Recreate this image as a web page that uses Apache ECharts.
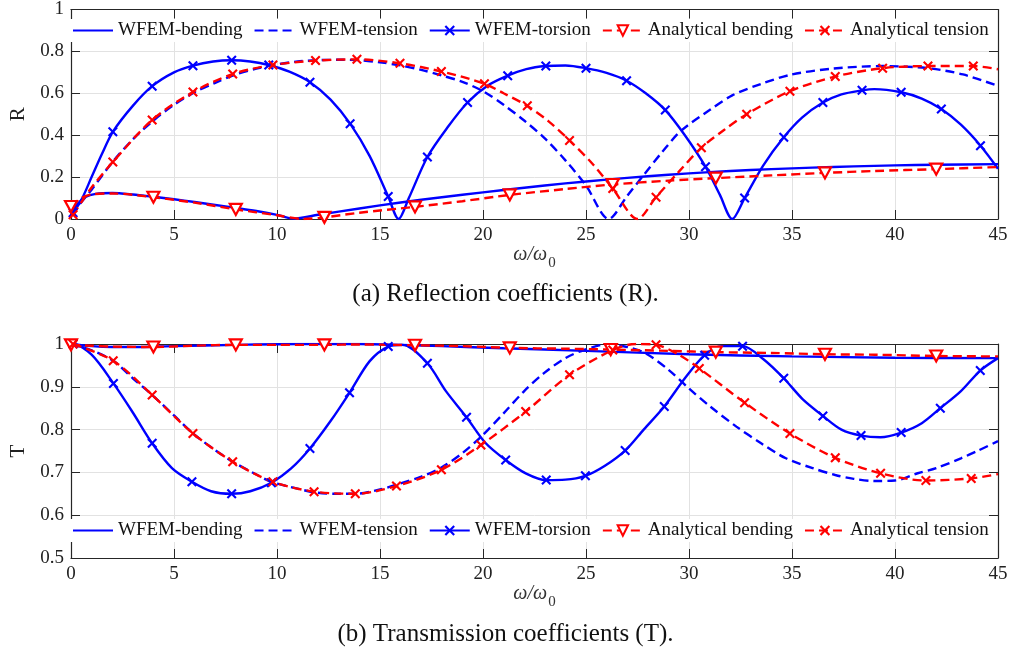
<!DOCTYPE html>
<html><head><meta charset="utf-8">
<script src="https://cdn.jsdelivr.net/npm/echarts@6/dist/echarts.min.js"></script>
<style>html,body{margin:0;padding:0;background:#fff}#c{width:1011px;height:655px}</style>
</head><body><div id="c"></div>
<script>
// ---------- Axis ticks ----------
const xTicks = [0,5,10,15,20,25,30,35,40,45];
const rTicks = [0,0.2,0.4,0.6,0.8,1];
const tTicks = [0.5,0.6,0.7,0.8,0.9,1];
const seriesNames = ['WFEM-bending','WFEM-tension','WFEM-torsion','Analytical bending','Analytical tension'];

// ---------- (a) Reflection R ----------
const rWfemBendX = [0,0.3,0.7,1.2,2,3,4,5,6,7,8,9,10,10.8,12,14,16,18,20,22,24,26,28,30,32,34,36,38,40,42,45];
const rWfemBendY = [0.02,0.07,0.105,0.12,0.124,0.117,0.106,0.094,0.081,0.067,0.053,0.038,0.02,0.002,0.02,0.05,0.079,0.104,0.127,0.149,0.17,0.188,0.204,0.218,0.229,0.238,0.245,0.251,0.256,0.259,0.262];

const rWfemTensX = [0,0.5,1,2,3,4,5,6,7,8,9,10,11,12,13,14,15,16,17,18,19,20,21,22,23,24,25,26.1,27,27.8,28.7,29.6,31,32.1,33.5,35,37,39.4,41.6,43.3,45];
const rWfemTensY = [0.02,0.08,0.14,0.27,0.38,0.47,0.545,0.605,0.65,0.69,0.718,0.738,0.752,0.758,0.76,0.758,0.748,0.733,0.712,0.685,0.655,0.61,0.545,0.47,0.385,0.28,0.16,0.0,0.11,0.21,0.32,0.42,0.52,0.59,0.645,0.69,0.718,0.73,0.72,0.69,0.635];

const rWfemTorsX = [0,0.5,1,1.5,3,5,6.9,8.7,10.6,12.6,14.5,15.9,16.4,18.3,20.2,22.1,24,26,27.9,29.8,31.5,32.1,33.6,35.5,37.4,39,41.3,43.2,45];
const rWfemTorsY = [0.02,0.09,0.2,0.31,0.54,0.7,0.752,0.752,0.703,0.57,0.3,0.0,0.1,0.44,0.635,0.715,0.733,0.697,0.6,0.4,0.115,0.0,0.255,0.485,0.595,0.62,0.575,0.45,0.24];
const rWfemTorsMarkX = [0.1,2.03,3.94,5.92,7.8,9.6,11.6,13.55,15.4,17.3,19.25,21.2,23.05,25,26.97,28.85,30.8,32.7,34.6,36.5,38.4,40.3,42.25,44.15];
const rWfemTorsMarkY = [0.03,0.416,0.634,0.732,0.758,0.735,0.653,0.455,0.107,0.296,0.556,0.684,0.73,0.72,0.66,0.52,0.25,0.1,0.39,0.556,0.614,0.605,0.525,0.35];

const rAnaBendX = [0.5,1,2,6,10,11.3,14,19,24,29,34,39,45];
const rAnaBendY = [0.1,0.117,0.122,0.078,0.018,0.0,0.03,0.085,0.143,0.183,0.208,0.229,0.248];
const rAnaBendMarkX = [0,4,8,12.3,16.7,21.3,26.3,31.3,36.6,42];
const rAnaBendMarkY = [0.06,0.104,0.046,0.008,0.058,0.115,0.165,0.195,0.22,0.238];

const rAnaTensX = [1,21,23.2,25.3,27.5,29.5,31.7,45];
const rAnaTensY = [0.15,0.6,0.465,0.265,0.0,0.225,0.425,0.715];
const rAnaTensMarkX = [0.1,2.03,3.94,5.92,7.85,9.8,11.87,13.88,15.97,17.98,20.07,22.15,24.2,26.3,28.4,30.6,32.8,34.9,37.1,39.4,41.6,43.8];
const rAnaTensMarkY = [0.02,0.272,0.473,0.606,0.692,0.735,0.756,0.762,0.743,0.704,0.646,0.54,0.375,0.145,0.104,0.34,0.5,0.61,0.68,0.72,0.73,0.73];

// ---------- (b) Transmission T ----------
const tWfemBendX = [0,1,2,3,5,8,11,14,16,18,21,25,30,35,40,45];
const tWfemBendY = [1.0,0.995,0.993,0.993,0.995,0.998,1.0,1.0,0.998,0.995,0.99,0.984,0.976,0.971,0.968,0.967];

const tWfemTensX = [0,1,2.05,3,3.94,5,5.92,7,7.85,9,9.73,11,11.87,13,13.8,15,15.9,17,18,19,19.9,21,22,22.96,24,24.9,26,27,27.9,29,30,31,32.3,33.5,34.7,36,37.1,38,39,40,41.1,42,43.2,44,45];
const tWfemTensY = [1.0,0.985,0.961,0.92,0.881,0.833,0.791,0.752,0.725,0.695,0.678,0.662,0.653,0.65,0.65,0.66,0.673,0.69,0.712,0.745,0.783,0.838,0.89,0.932,0.967,0.986,0.999,0.993,0.978,0.94,0.896,0.855,0.807,0.768,0.733,0.71,0.694,0.685,0.68,0.681,0.698,0.71,0.733,0.75,0.773];

const tWfemTorsX = [0,1,3,4.9,6.8,8.7,10.7,12.6,14.5,16.1,18.2,20.1,22.1,24,25.9,27.8,29.8,31.6,33.6,35.5,37.4,39.3,41.3,43.2,45];
const tWfemTorsY = [1.0,0.975,0.84,0.71,0.656,0.656,0.71,0.82,0.96,0.998,0.89,0.77,0.697,0.683,0.715,0.8,0.92,0.995,0.965,0.872,0.8,0.782,0.815,0.89,0.967];
const tWfemTorsMarkX = [0.1,2.06,3.94,5.87,7.8,9.73,11.6,13.52,15.4,17.3,19.2,21.1,23.07,24.97,26.9,28.8,30.76,32.6,34.6,36.5,38.35,40.3,42.2,44.14];
const tWfemTorsMarkY = [1.0,0.908,0.768,0.678,0.65,0.676,0.756,0.886,0.994,0.955,0.829,0.729,0.682,0.692,0.751,0.854,0.974,0.995,0.92,0.832,0.786,0.793,0.85,0.938];

const tAnaBendX = [1,2,6,10,14,19,24,29,34,39,45];
const tAnaBendY = [0.996,0.994,0.996,0.998,0.999,0.995,0.989,0.984,0.979,0.975,0.971];
const tAnaBendMarkX = [0,4,8,12.3,16.7,21.3,26.2,31.3,36.6,42];
const tAnaBendMarkY = [0.998,0.993,0.998,0.998,0.997,0.991,0.987,0.981,0.976,0.972];

const tAnaTensX = [27.4,29.5,45];
const tAnaTensY = [1.0,0.975,0.696];
const tAnaTensMarkX = [0.1,2.05,3.94,5.92,7.85,9.8,11.8,13.8,15.8,17.98,19.9,22.07,24.2,26.3,28.4,30.5,32.7,34.9,37.1,39.3,41.5,43.7];
const tAnaTensMarkY = [1.0,0.961,0.881,0.791,0.725,0.678,0.655,0.65,0.668,0.706,0.764,0.842,0.928,0.986,0.998,0.943,0.863,0.791,0.734,0.698,0.681,0.686];

// ---------- helpers ----------
const BLUE = '#0000ff', RED = '#ff0000';
const X_SYM = 'path://M1.5,0 L5,3.5 L8.5,0 L10,1.5 L6.5,5 L10,8.5 L8.5,10 L5,6.5 L1.5,10 L0,8.5 L3.5,5 L0,1.5 Z';
const TRI_SYM = 'path://M0,0 L10,0 L5,9 Z';
const FONT = 'Liberation Serif';

function merge(lx, ly, mx, my) {
  const pts = [];
  lx.forEach((x, i) => pts.push({ value: [x, ly[i]], symbol: 'none' }));
  (mx || []).forEach((x, i) => pts.push({ value: [x, my[i]] }));
  pts.sort((a, b) => a.value[0] - b.value[0]);
  return pts;
}

function mk(name, data, color, dashed, kind, g) {
  const s = {
    name, type: 'line', data, xAxisIndex: g * 2, yAxisIndex: g * 2,
    smooth: 0.3, showAllSymbol: true, animation: false, silent: true,
    lineStyle: { color, width: 2.4, type: dashed ? [9, 5] : 'solid' },
    itemStyle: { color: 'rgba(255,255,255,0)', borderWidth: 0 },
    symbol: 'circle', symbolSize: 2, clip: true
  };
  if (kind === 'x') {
    s.symbol = X_SYM; s.symbolSize = 10;
    s.itemStyle = { color, borderWidth: 0 };
  } else if (kind === 'tri') {
    s.symbol = TRI_SYM; s.symbolSize = [12, 11];
    s.itemStyle = { color: '#ffffff', borderColor: color, borderWidth: 2.2 };
  }
  return s;
}

function xAxes(g) {
  const common = {
    gridIndex: g, type: 'value', min: 0, max: 45, interval: 5,
    axisLine: { onZero: false, lineStyle: { color: '#262626', width: 1.2 } },
    axisTick: { inside: true, length: 9, lineStyle: { color: '#262626', width: 1 } }
  };
  return [
    Object.assign({}, common, {
      position: 'bottom',
      axisLabel: { fontFamily: FONT, fontSize: 19, color: '#222', margin: 7 },
      splitLine: { show: true, lineStyle: { color: '#e2e2e2', width: 1 } },
      name: '{a|ω/ω}{s|0}', nameLocation: 'middle', nameGap: 19, nameMoveOverlap: false,
      nameTextStyle: {
        rich: {
          a: { fontFamily: FONT, fontStyle: 'italic', fontSize: 20, color: '#333' },
          s: { fontFamily: FONT, fontSize: 15, color: '#333', padding: [18, 0, 0, 1] }
        }
      }
    }),
    Object.assign({}, common, { position: 'top', axisLabel: { show: false }, splitLine: { show: false } })
  ];
}

function yAxes(g, ticks, label) {
  const common = {
    gridIndex: g, type: 'value', min: ticks[0], max: ticks[ticks.length - 1],
    interval: +(ticks[1] - ticks[0]).toFixed(3),
    axisLine: { onZero: false, lineStyle: { color: '#262626', width: 1.2 } },
    axisTick: { inside: true, length: 9, lineStyle: { color: '#262626', width: 1 } }
  };
  return [
    Object.assign({}, common, {
      position: 'left',
      axisLabel: { fontFamily: FONT, fontSize: 19, color: '#222', margin: 7,
        formatter: v => String(+v.toFixed(2)) },
      splitLine: { show: true, lineStyle: { color: '#e2e2e2', width: 1 } },
      name: label, nameLocation: 'middle', nameGap: 42,
      nameTextStyle: { fontFamily: FONT, fontSize: 21, color: '#222' }
    }),
    Object.assign({}, common, { position: 'right', axisLabel: { show: false }, splitLine: { show: false } })
  ];
}

function legend(top) {
  return {
    data: seriesNames, left: 68, top, orient: 'horizontal',
    itemWidth: 40, itemHeight: 13, itemGap: 11, padding: [2, 4],
    backgroundColor: '#ffffff', selectedMode: false,
    textStyle: { fontFamily: FONT, fontSize: 19, color: '#111' }
  };
}

const series = [
  mk('WFEM-bending', merge(rWfemBendX, rWfemBendY), BLUE, false, null, 0),
  mk('WFEM-tension', merge(rWfemTensX, rWfemTensY), BLUE, true, null, 0),
  mk('WFEM-torsion', merge(rWfemTorsX, rWfemTorsY, rWfemTorsMarkX, rWfemTorsMarkY), BLUE, false, 'x', 0),
  mk('Analytical bending', merge(rAnaBendX, rAnaBendY, rAnaBendMarkX, rAnaBendMarkY), RED, true, 'tri', 0),
  mk('Analytical tension', merge(rAnaTensX, rAnaTensY, rAnaTensMarkX, rAnaTensMarkY), RED, true, 'x', 0),
  mk('WFEM-bending', merge(tWfemBendX, tWfemBendY), BLUE, false, null, 1),
  mk('WFEM-tension', merge(tWfemTensX, tWfemTensY), BLUE, true, null, 1),
  mk('WFEM-torsion', merge(tWfemTorsX, tWfemTorsY, tWfemTorsMarkX, tWfemTorsMarkY), BLUE, false, 'x', 1),
  mk('Analytical bending', merge(tAnaBendX, tAnaBendY, tAnaBendMarkX, tAnaBendMarkY), RED, true, 'tri', 1),
  mk('Analytical tension', merge(tAnaTensX, tAnaTensY, tAnaTensMarkX, tAnaTensMarkY), RED, true, 'x', 1)
];

const chart = echarts.init(document.getElementById('c'), null, { renderer: 'canvas' });
chart.setOption({
  animation: false,
  backgroundColor: '#ffffff',
  title: [
    { text: '(a) Reflection coefficients (R).', left: 'center', top: 282, padding: 0,
      textStyle: { fontFamily: FONT, fontSize: 25, fontWeight: 'normal', color: '#111' } },
    { text: '(b) Transmission coefficients (T).', left: 'center', top: 622, padding: 0,
      textStyle: { fontFamily: FONT, fontSize: 25, fontWeight: 'normal', color: '#111' } }
  ],
  grid: [
    { left: 64, width: 934, top: 5, height: 214, containLabel: false },
    { left: 64, width: 934, top: 344, height: 214, containLabel: false }
  ],
  xAxis: [...xAxes(0), ...xAxes(1)],
  yAxis: [...yAxes(0, rTicks, 'R'), ...yAxes(1, tTicks, 'T')],
  legend: [legend(19), legend(519)],
  series
});
</script></body></html>
